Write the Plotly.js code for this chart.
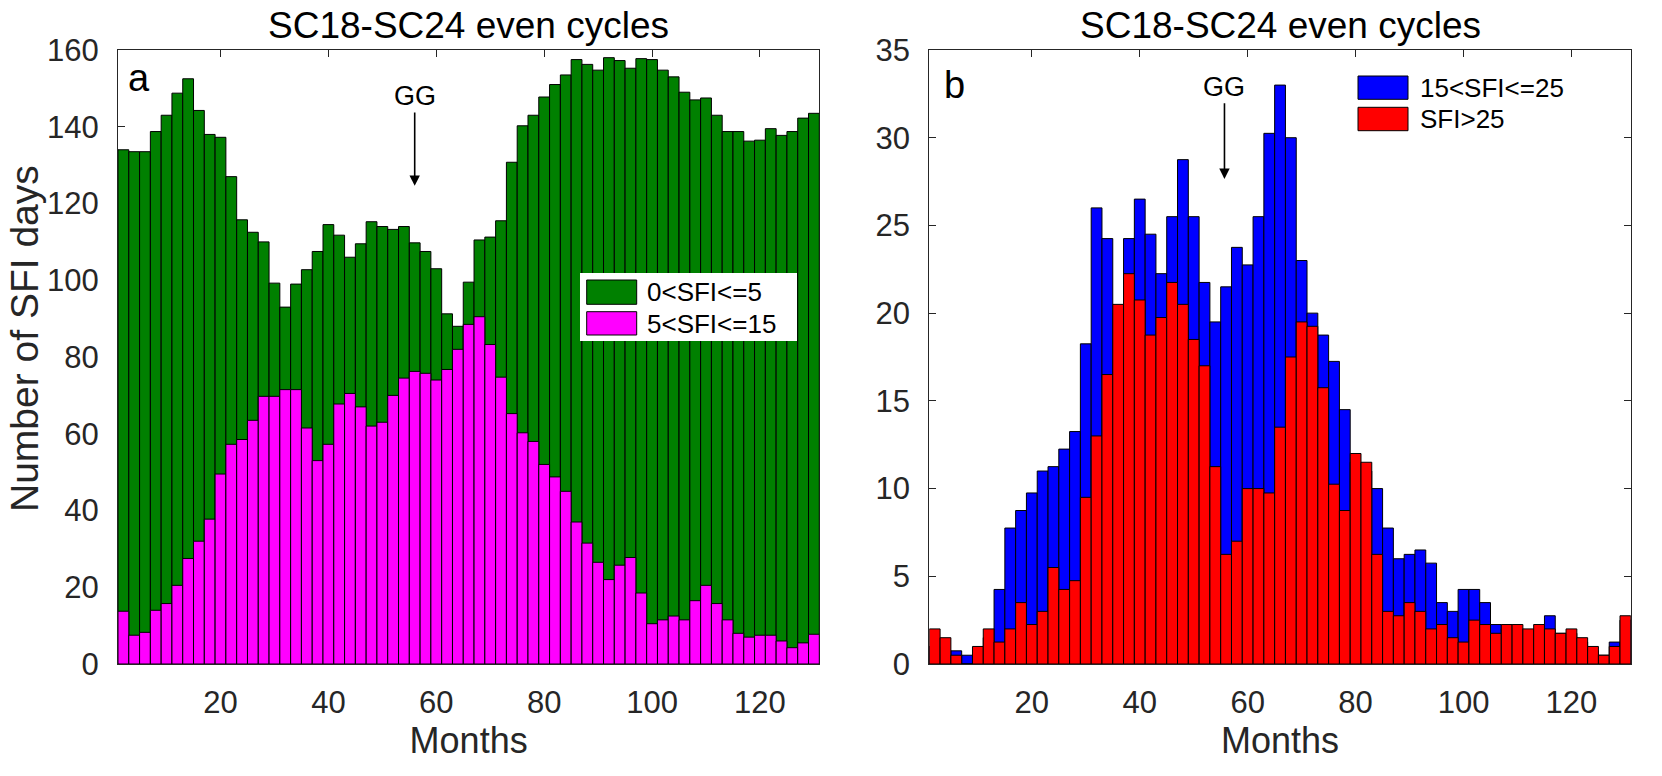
<!DOCTYPE html>
<html>
<head>
<meta charset="utf-8">
<script src="https://cdn.plot.ly/plotly-3.0.1.min.js"></script>
<style>
  html, body { margin: 0; padding: 0; background: #fff; }
  #myGraph { width: 1662px; height: 776px; }
</style>
</head>
<body>
<div id="myGraph"></div>
<script>
// two-month bins, bar centres (months)
const months = [2, 4, 6, 8, 10, 12, 14, 16, 18, 20, 22, 24, 26, 28, 30, 32, 34, 36, 38, 40,
    42, 44, 46, 48, 50, 52, 54, 56, 58, 60, 62, 64, 66, 68, 70, 72, 74, 76, 78, 80,
    82, 84, 86, 88, 90, 92, 94, 96, 98, 100, 102, 104, 106, 108, 110, 112, 114, 116, 118, 120,
    122, 124, 126, 128, 130];

// panel a
const sfi0to5 = [134, 133.5, 133.5, 138.75, 143, 148.75, 152.5, 144.25, 138, 137.25,
    127, 115.75, 112.5, 110, 99.25, 93, 99, 102.75, 107.5, 114.5,
    111.75, 106, 109.5, 115.25, 114, 113.25, 114, 109.75, 107.5, 103,
    91.25, 88, 99.5, 110.5, 111.25, 115.5, 130.75, 140.25, 143, 147.75,
    151, 153.5, 157.5, 156.25, 154.75, 158, 157.25, 155.25, 157.75, 157.5,
    154.75, 153, 149, 147, 147.5, 143, 138.75, 138.75, 136.25, 136.5,
    139.5, 137.75, 138.75, 142.25, 143.5];
const sfi5to15 = [13.75, 7.5, 8.25, 14, 15.75, 20.5, 27.5, 32, 37.75, 49.5,
    57.25, 58.5, 63.5, 69.75, 69.75, 71.5, 71.5, 61.5, 53, 57.25,
    67.75, 70.5, 67, 62, 63, 70, 74.5, 76.25, 75.75, 74,
    76.75, 82, 88.5, 90.5, 83.25, 74.75, 65.25, 60.25, 58, 52,
    48.75, 45, 37, 31.5, 26.5, 22, 25.75, 27.75, 18.5, 10.5,
    11.5, 12.5, 11.5, 16.5, 20.5, 15.75, 11.5, 8, 7, 7.5,
    7.5, 6, 4.25, 5.5, 7.75];

// panel b
const sfi15to25 = [1, 0.5, 0.75, 0.5, 0.5, 1.5, 4.25, 7.75, 8.75, 9.75,
    11, 11.25, 12.25, 13.25, 18.25, 26, 24.25, 20, 24.25, 26.5,
    24.5, 22.25, 25.5, 28.75, 25.5, 21.75, 19.5, 21.5, 23.75, 22.75,
    25.5, 30.25, 33, 30, 23, 20, 18.75, 17.25, 14.5, 11.5,
    11, 10, 7.75, 6, 6.25, 6.5, 5.75, 3.5, 3, 4.25,
    4.25, 3.5, 2.25, 2, 2, 1.75, 2, 2.75, 1.75, 1.75,
    1.25, 0.75, 0.5, 1.25, 2.5];
const sfiAbove25 = [2, 1.5, 0.5, 0, 1, 2, 1.25, 2, 3.5, 2.25,
    3, 5.5, 4.25, 4.75, 9.5, 13, 16.5, 20.5, 22.25, 20.75,
    18.75, 19.75, 21.75, 20.5, 18.5, 17, 11.25, 6.25, 7, 10,
    10, 9.75, 13.5, 17.5, 19.5, 19.25, 15.75, 10.25, 8.75, 12,
    11.5, 6.25, 3, 2.75, 3.5, 3, 2, 2.25, 1.5, 1.25,
    2.5, 2.25, 1.75, 2.25, 2.25, 2, 2.25, 2, 1.75, 2,
    1.5, 1, 0.5, 1, 2.75];

const xTicks = [20, 40, 60, 80, 100, 120];

const W = 1662, H = 776;
const px = v => v / W;
const py = v => 1 - v / H;
const font = 'Liberation Sans, Arial, Helvetica, sans-serif';
const gray = '#262626';

function barTrace(y, color, xa, ya) {
    return {
        type: 'bar', x: months, y: y, width: 2,
        xaxis: xa, yaxis: ya,
        marker: { color: color, line: { color: '#000', width: 1 } },
        showlegend: false, hoverinfo: 'x+y'
    };
}

const data = [
    barTrace(sfi0to5, '#008000', 'x', 'y'),
    barTrace(sfi5to15, '#ff00ff', 'x', 'y'),
    barTrace(sfi15to25, '#0000ff', 'x2', 'y2'),
    barTrace(sfiAbove25, '#ff0000', 'x2', 'y2')
];

function xAxis(domain, anchor) {
    return {
        domain: domain, anchor: anchor, range: [1, 131],
        tickvals: xTicks, ticks: 'inside', ticklen: 7, tickcolor: gray,
        showline: true, linecolor: gray, linewidth: 1, mirror: 'ticks',
        showgrid: false, zeroline: false, layer: 'below traces',
        tickfont: { family: font, size: 31, color: gray },
        ticklabelstandoff: 11,
        title: { text: 'Months', font: { family: font, size: 36, color: gray }, standoff: 5 }
    };
}

function yAxis(range, dtick, anchor) {
    return {
        domain: [py(664), py(50)], anchor: anchor, range: range, dtick: dtick,
        ticks: 'inside', ticklen: 7, tickcolor: gray,
        showline: true, linecolor: gray, linewidth: 1, mirror: 'ticks',
        showgrid: false, zeroline: false, layer: 'below traces',
        tickfont: { family: font, size: 31, color: gray },
        ticklabelstandoff: 12
    };
}

function txt(text, x, y, size, opts) {
    return Object.assign({
        text: text, xref: 'paper', yref: 'paper', x: px(x), y: py(y),
        xanchor: 'center', yanchor: 'middle', showarrow: false,
        font: { family: font, size: size, color: '#000' }
    }, opts || {});
}

function patch(x0, x1, y0, y1, color) {
    return {
        type: 'rect', xref: 'paper', yref: 'paper',
        x0: px(x0), x1: px(x1), y0: py(y1), y1: py(y0),
        fillcolor: color, line: { color: '#000', width: 1 }
    };
}

const layout = {
    width: W, height: H,
    margin: { l: 0, r: 0, t: 0, b: 0 },
    paper_bgcolor: '#fff', plot_bgcolor: '#fff',
    barmode: 'overlay', bargap: 0,
    showlegend: false,
    xaxis: xAxis([px(118), px(819.3)], 'y'),
    yaxis: yAxis([0, 160], 20, 'x'),
    xaxis2: xAxis([px(929.3), px(1630.8)], 'y2'),
    yaxis2: yAxis([0, 35], 5, 'x2'),
    shapes: [
        // legend a
        { type: 'rect', xref: 'paper', yref: 'paper', x0: px(580), x1: px(797), y0: py(341), y1: py(273),
          fillcolor: '#fff', line: { width: 0 } },
        patch(586.7, 636.7, 280, 304.3, '#008000'),
        patch(586.7, 636.7, 311.7, 335, '#ff00ff'),
        // legend b
        patch(1358, 1408, 76, 99.3, '#0000ff'),
        patch(1358, 1408, 107.3, 130.7, '#ff0000')
    ],
    annotations: [
        txt('SC18-SC24 even cycles', 468.65, 26, 37),
        txt('SC18-SC24 even cycles', 1280, 26, 37),
        txt('Number of SFI days', 24, 339, 39, { textangle: -90, font: { family: font, size: 39, color: gray } }),
        txt('a', 126, 78, 38, { xanchor: 'left' }),
        txt('b', 942, 85, 38, { xanchor: 'left' }),
        txt('0<SFI<=5', 645, 292, 26, { xanchor: 'left' }),
        txt('5<SFI<=15', 645, 323.5, 26, { xanchor: 'left' }),
        txt('15<SFI<=25', 1418, 87.7, 26, { xanchor: 'left' }),
        txt('SFI>25', 1418, 119, 26, { xanchor: 'left' }),
        {
            text: 'GG', xref: 'x', yref: 'y', x: 56, y: 124.6,
            axref: 'x', ayref: 'y', ax: 56, ay: 148,
            showarrow: true, arrowhead: 2, arrowsize: 1.3, arrowwidth: 1.6, arrowcolor: '#000',
            font: { family: font, size: 27, color: '#000' }
        },
        {
            text: 'GG', xref: 'x2', yref: 'y2', x: 55.7, y: 27.65,
            axref: 'x2', ayref: 'y2', ax: 55.7, ay: 32.9,
            showarrow: true, arrowhead: 2, arrowsize: 1.3, arrowwidth: 1.6, arrowcolor: '#000',
            font: { family: font, size: 27, color: '#000' }
        }
    ]
};

Plotly.newPlot('myGraph', data, layout, { displayModeBar: false, staticPlot: true });
</script>
</body>
</html>
